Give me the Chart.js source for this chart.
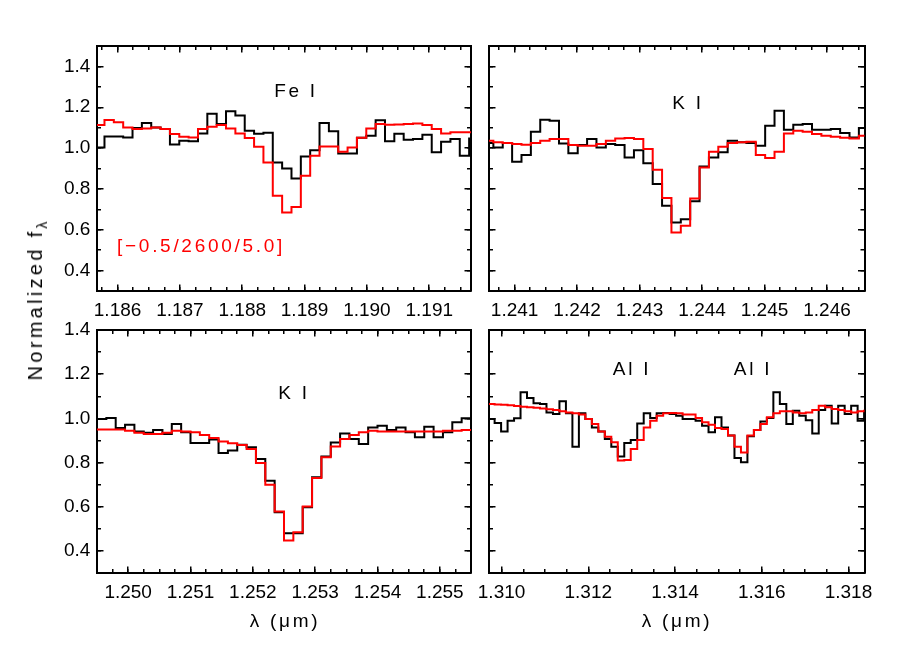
<!DOCTYPE html>
<html><head><meta charset="utf-8">
<script src="https://cdn.jsdelivr.net/npm/chart.js@4"></script>
<style>
html,body{margin:0;padding:0;background:#fff;}
#wrap{position:relative;width:900px;height:650px;overflow:hidden;background:#fff;}
canvas{position:absolute;left:0;top:0;}
.t{position:absolute;transform:translate(-50%,-50%);font-family:"Liberation Sans",Arial,sans-serif;font-size:19px;letter-spacing:2.7px;white-space:nowrap;color:#000;line-height:1;}
.t sub{font-size:14px;vertical-align:-5px;letter-spacing:0;}
</style></head><body>
<div id="wrap">
<canvas id="c1" width="900" height="650"></canvas>
<canvas id="c2" width="900" height="650"></canvas>
<canvas id="c3" width="900" height="650"></canvas>
<canvas id="c4" width="900" height="650"></canvas>
<div class="t" style="left:296px;top:90px;">Fe I</div>
<div class="t" style="left:688px;top:102px;">K I</div>
<div class="t" style="left:294px;top:392px;">K I</div>
<div class="t" style="left:632px;top:368px;">Al I</div>
<div class="t" style="left:753px;top:368px;">Al I</div>
<div class="t" style="left:201px;top:245px;color:#ff0000;">[−0.5/2600/5.0]</div>
<div class="t" style="left:37px;top:301px;font-size:20px;letter-spacing:3.3px;transform:translate(-50%,-50%) rotate(-90deg);">Normalized f<sub>λ</sub></div>
<div class="t" style="left:285px;top:620px;">λ (μm)</div>
<div class="t" style="left:677px;top:620px;">λ (μm)</div>
</div>
<script>
// ---------- tick labels ----------
const Y_TICKS = [0.4, 0.6, 0.8, 1.0, 1.2, 1.4];
const X_TICKS_FE = [1.186, 1.187, 1.188, 1.189, 1.190, 1.191];
const X_TICKS_K1 = [1.241, 1.242, 1.243, 1.244, 1.245, 1.246];
const X_TICKS_K2 = [1.250, 1.251, 1.252, 1.253, 1.254, 1.255];
const X_TICKS_AL = [1.310, 1.312, 1.314, 1.316, 1.318];

// ---------- Fe I panel (bin left edges, last entry closes final bin) ----------
const LAM_FE = [1.18564,1.18579,1.18594,1.18609,1.18624,1.18639,1.18654,1.18669,1.18684,1.18699,
1.18714,1.18729,1.18744,1.18759,1.18774,1.18789,1.18804,1.18819,1.18834,1.18849,
1.18864,1.18879,1.18894,1.18909,1.18924,1.18939,1.18954,1.18969,1.18984,1.18999,
1.19014,1.19029,1.19044,1.19059,1.19074,1.19089,1.19104,1.19119,1.19134,1.19149,
1.19164,1.19179];
const OBS_FE = [1.003,1.057,1.057,1.052,1.098,1.123,1.101,1.093,1.018,1.036,
1.033,1.072,1.168,1.118,1.181,1.160,1.085,1.070,1.075,0.930,
0.900,0.851,0.959,0.990,1.123,1.082,0.974,0.974,1.051,1.060,
1.136,1.033,1.070,1.041,1.044,1.065,0.980,1.031,1.044,0.962,1.047];
const MOD_FE = [1.113,1.137,1.127,1.101,1.093,1.096,1.101,1.093,1.069,1.056,
1.052,1.093,1.105,1.113,1.096,1.072,1.049,1.007,0.930,0.766,
0.685,0.712,0.864,0.962,1.008,1.008,0.982,1.003,1.051,1.096,
1.118,1.114,1.116,1.118,1.121,1.113,1.093,1.072,1.077,1.077,1.077];

// ---------- K I 1.2436 panel ----------
const LAM_K1 = [1.24051,1.24066,1.24081,1.24096,1.24111,1.24126,1.24141,1.24156,1.24171,1.24186,
1.24201,1.24216,1.24231,1.24246,1.24261,1.24276,1.24291,1.24306,1.24321,1.24336,
1.24351,1.24366,1.24381,1.24396,1.24411,1.24426,1.24441,1.24456,1.24471,1.24486,
1.24501,1.24516,1.24531,1.24546,1.24561,1.24576,1.24591,1.24606,1.24621,1.24636,
1.24651,1.24666];
const OBS_K1 = [1.025,1.003,1.025,0.933,0.966,1.080,1.139,1.134,1.023,0.975,
1.015,1.044,1.003,1.020,1.015,0.954,0.990,0.926,0.824,0.717,
0.636,0.652,0.739,0.910,0.954,0.979,1.036,1.028,1.025,1.011,
1.109,1.183,1.090,1.114,1.118,1.090,1.090,1.093,1.074,1.052,1.098];
const MOD_K1 = [1.036,1.028,1.025,1.020,1.016,1.025,1.036,1.044,1.044,1.015,
1.011,1.011,1.020,1.036,1.047,1.049,1.044,0.995,0.894,0.755,
0.587,0.619,0.753,0.905,0.982,1.007,1.025,1.028,1.031,0.966,
0.951,0.982,1.072,1.085,1.080,1.069,1.060,1.056,1.051,1.047,1.060];

// ---------- K I 1.2526 panel ----------
const LAM_K2 = [1.24950,1.24965,1.24980,1.24995,1.25010,1.25025,1.25040,1.25055,1.25070,1.25085,
1.25100,1.25115,1.25130,1.25145,1.25160,1.25175,1.25190,1.25205,1.25220,1.25235,
1.25250,1.25265,1.25280,1.25295,1.25310,1.25325,1.25340,1.25355,1.25370,1.25385,
1.25400,1.25415,1.25430,1.25445,1.25460,1.25475,1.25490,1.25505,1.25520,1.25535,1.25550];
const OBS_K2 = [0.997,1.002,0.956,0.971,0.941,0.935,0.947,0.929,0.974,0.937,
0.888,0.888,0.904,0.843,0.854,0.881,0.869,0.816,0.718,0.575,
0.480,0.480,0.598,0.733,0.827,0.891,0.932,0.907,0.884,0.959,
0.967,0.947,0.959,0.937,0.914,0.962,0.914,0.937,0.982,1.000];
const MOD_K2 = [0.950,0.950,0.950,0.944,0.935,0.929,0.929,0.935,0.944,0.941,
0.937,0.925,0.911,0.895,0.887,0.879,0.861,0.798,0.700,0.578,
0.447,0.485,0.601,0.730,0.824,0.873,0.907,0.925,0.937,0.944,
0.941,0.941,0.940,0.940,0.940,0.941,0.941,0.944,0.944,0.947];

// ---------- Al I panel ----------
const LAM_AL = [1.3096900,1.3098395,1.3099890,1.3101385,1.3102880,1.3104375,1.3105870,1.3107365,1.3108860,1.3110355,
1.3111850,1.3113345,1.3114840,1.3116335,1.3117830,1.3119325,1.3120820,1.3122315,1.3123810,1.3125305,
1.3126800,1.3128295,1.3129790,1.3131285,1.3132780,1.3134275,1.3135770,1.3137265,1.3138760,1.3140255,
1.3141750,1.3143245,1.3144740,1.3146235,1.3147730,1.3149225,1.3150720,1.3152215,1.3153710,1.3155205,
1.3156700,1.3158195,1.3159690,1.3161185,1.3162680,1.3164175,1.3165670,1.3167165,1.3168660,1.3170155,
1.3171650,1.3173145,1.3174640,1.3176135,1.3177630,1.3179125,1.3180620,1.3182115,1.3183610,1.3185105];
const OBS_AL = [0.997,0.979,0.941,0.989,1.000,1.118,1.092,1.068,1.065,1.027,
1.020,1.077,1.023,0.872,1.023,0.997,0.959,0.941,0.907,0.872,
0.827,0.888,0.902,0.977,1.023,1.002,1.023,1.024,1.020,1.012,
0.997,0.997,0.989,0.967,0.937,1.005,0.959,0.922,0.821,0.801,
0.919,0.947,0.986,1.002,1.118,1.065,0.974,1.035,1.012,0.992,
0.932,1.038,1.057,0.977,1.057,1.020,1.057,0.989,1.027];
const MOD_AL = [1.065,1.063,1.062,1.059,1.056,1.053,1.050,1.048,1.045,1.041,
1.038,1.032,1.026,1.023,1.017,0.997,0.974,0.941,0.917,0.892,
0.809,0.812,0.861,0.902,0.959,0.989,1.012,1.023,1.024,1.023,
1.017,1.017,1.002,0.982,0.971,0.956,0.952,0.922,0.872,0.846,
0.922,0.947,0.974,1.005,1.023,1.032,1.032,1.027,1.023,1.027,
1.038,1.057,1.050,1.042,1.038,1.032,1.027,1.032,1.035];

// ---------- drawing ----------
Chart.defaults.font.family = '"Liberation Sans", Arial, sans-serif';
Chart.defaults.font.size = 19;
Chart.defaults.color = '#000';

const LABEL_W = 70;   // room kept for y tick labels
const LABEL_H = 45;   // room kept for x tick labels

function minorTicks(min, max, step) {
  const out = [];
  const k0 = Math.ceil(min / step - 1e-9), k1 = Math.floor(max / step + 1e-9);
  for (let k = k0; k <= k1; k++) out.push(+(k * step).toFixed(6));
  return out;
}

function axis(pos, min, max, ticksArr, showLabels, len, borderOn, decimals) {
  const horiz = pos === 'top' || pos === 'bottom';
  return {
    type: 'linear', position: pos, min: min, max: max,
    weight: showLabels ? 2 : 0,
    afterFit: s => {
      if (horiz) s.height = showLabels ? LABEL_H : 0;
      else s.width = showLabels ? LABEL_W : 0;
    },
    afterBuildTicks: s => { s.ticks = ticksArr.map(v => ({value: v})); },
    ticks: {
      display: showLabels, autoSkip: false, maxRotation: 0, minRotation: 0,
      padding: horiz ? 8.6 + len : 6.7 + len,
      callback: v => Number(v).toFixed(decimals),
      color: '#000', font: {size: 19}
    },
    grid: {display: true, drawOnChartArea: false, drawTicks: true, tickLength: -len,
           tickWidth: 1.5, tickColor: '#000', color: '#000', lineWidth: 1.5},
    border: {display: borderOn, color: '#000', width: 2}
  };
}

function makePanel(id, area, xr, xMajor, xMinStep, yr, yLabels, lam, obs, mod) {
  const build = vals => {
    const d = vals.map((y, i) => ({x: lam[i], y: y}));
    d.push({x: lam[vals.length], y: vals[vals.length - 1]});
    return d;
  };
  const xMinor = minorTicks(xr[0], xr[1], xMinStep);
  const yMinor = minorTicks(yr[0], yr[1], 0.1);
  const ds = (data, color) => ({data: data, borderColor: color, borderWidth: 2, pointRadius: 0,
    stepped: 'before', tension: 0, fill: false, clip: 0, borderJoinStyle: 'miter',
    xAxisID: 'x', yAxisID: 'y'});
  const padLeft = area.l - (yLabels ? LABEL_W : 0);
  new Chart(document.getElementById(id), {
    type: 'line',
    data: {datasets: [ds(build(mod), '#ff0000'), ds(build(obs), '#000000')]},
    options: {
      responsive: false, animation: false, events: [],
      layout: {padding: {left: padLeft, top: area.t, right: 900 - area.r, bottom: 650 - area.b - LABEL_H}},
      plugins: {legend: {display: false}, tooltip: {enabled: false}, title: {display: false}},
      scales: {
        x:   axis('bottom', xr[0], xr[1], xMajor, true, 6.5, true, 3),
        xm:  axis('bottom', xr[0], xr[1], xMinor, false, 4, false, 3),
        xt:  axis('top', xr[0], xr[1], xMajor, false, 6.5, true, 3),
        xtm: axis('top', xr[0], xr[1], xMinor, false, 4, false, 3),
        y:   axis('left', yr[0], yr[1], Y_TICKS, yLabels, 6.5, true, 1),
        ym:  axis('left', yr[0], yr[1], yMinor, false, 4, false, 1),
        yr:  axis('right', yr[0], yr[1], Y_TICKS, false, 6.5, true, 1),
        yrm: axis('right', yr[0], yr[1], yMinor, false, 4, false, 1)
      }
    }
  });
}

makePanel('c1', {l: 97, t: 46, r: 471, b: 291}, [1.18567, 1.19167], X_TICKS_FE, 0.00025, [0.3, 1.5], true, LAM_FE, OBS_FE, MOD_FE);
makePanel('c2', {l: 489, t: 46, r: 864.5, b: 291}, [1.24059, 1.24660], X_TICKS_K1, 0.00025, [0.3, 1.5], false, LAM_K1, OBS_K1, MOD_K1);
makePanel('c3', {l: 97, t: 330, r: 471, b: 573}, [1.24950, 1.25550], X_TICKS_K2, 0.00025, [0.3, 1.4], true, LAM_K2, OBS_K2, MOD_K2);
makePanel('c4', {l: 489, t: 330, r: 864.5, b: 573}, [1.30971, 1.31837], X_TICKS_AL, 0.0005, [0.3, 1.4], false, LAM_AL, OBS_AL, MOD_AL);
</script>
</body></html>
